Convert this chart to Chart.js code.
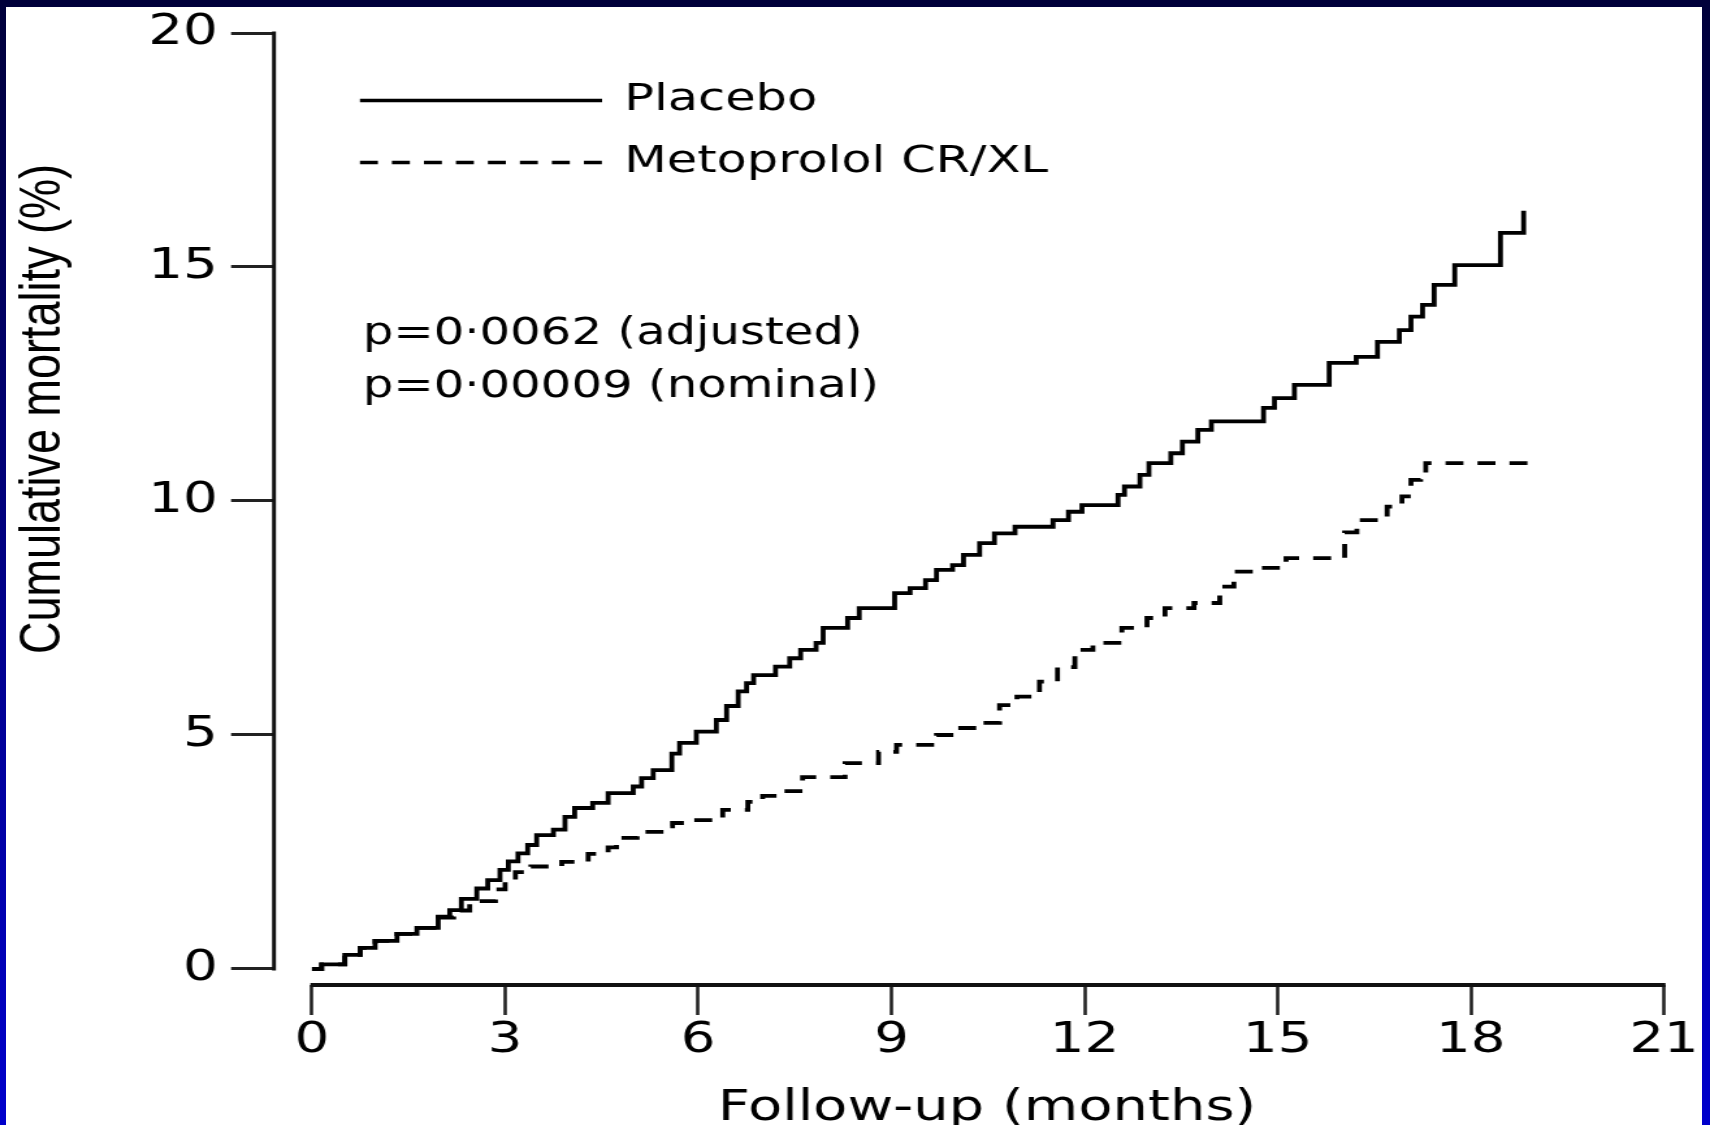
<!DOCTYPE html>
<html><head><meta charset="utf-8">
<script src="https://cdn.jsdelivr.net/npm/chart.js@4.4.1/dist/chart.umd.min.js"></script>
<style>
html,body{margin:0;padding:0;width:1710px;height:1125px;overflow:hidden;}
body{background:linear-gradient(to bottom,#00003a 0%,#0000cc 100%);position:relative;}
#panel{position:absolute;left:6px;top:7px;width:1696px;height:1118px;background:#fff;}
#wrap{position:absolute;left:0;top:0;width:1315px;height:1125px;transform:scaleX(1.300380);transform-origin:0 0;}
</style></head><body>
<div id="panel"></div>
<div id="wrap"><canvas id="c" width="1315" height="1125"></canvas></div>
<script>
// ---- data ----
const seriesNames = ['Placebo', 'Metoprolol CR/XL'];
const placeboMonths = [0, 0.15, 0.51, 0.75, 0.98, 1.32, 1.63, 1.96, 2.14, 2.32, 2.56, 2.73, 2.92, 3.05, 3.2, 3.35, 3.49, 3.75, 3.93, 4.08, 4.36, 4.6, 4.99, 5.12, 5.3, 5.59, 5.71, 5.97, 6.28, 6.44, 6.62, 6.75, 6.86, 7.2, 7.42, 7.59, 7.83, 7.94, 8.32, 8.5, 9.05, 9.29, 9.53, 9.7, 9.95, 10.12, 10.37, 10.6, 10.92, 11.51, 11.75, 11.96, 12.52, 12.62, 12.86, 13.0, 13.34, 13.52, 13.76, 13.97, 14.78, 14.95, 15.26, 15.8, 16.22, 16.55, 16.89, 17.07, 17.25, 17.43, 17.75, 18.46, 18.82];
const placeboPct = [0, 0.1, 0.3, 0.45, 0.6, 0.75, 0.88, 1.12, 1.26, 1.5, 1.72, 1.9, 2.12, 2.3, 2.47, 2.65, 2.86, 2.98, 3.25, 3.44, 3.55, 3.76, 3.9, 4.08, 4.25, 4.6, 4.83, 5.07, 5.32, 5.62, 5.93, 6.11, 6.28, 6.46, 6.64, 6.82, 6.97, 7.29, 7.5, 7.71, 8.03, 8.14, 8.31, 8.53, 8.63, 8.85, 9.1, 9.31, 9.45, 9.59, 9.77, 9.91, 10.13, 10.31, 10.56, 10.81, 11.02, 11.27, 11.52, 11.7, 11.99, 12.2, 12.48, 12.95, 13.08, 13.4, 13.65, 13.94, 14.19, 14.62, 15.04, 15.73, 16.2];
const metoMonths = [0, 0.15, 0.51, 0.75, 0.98, 1.32, 1.63, 1.96, 2.2, 2.45, 2.85, 3.0, 3.16, 3.4, 3.88, 4.29, 4.6, 4.73, 5.05, 5.52, 5.6, 5.92, 6.38, 6.77, 7.0, 7.3, 7.62, 8.28, 8.8, 9.08, 9.7, 10.0, 10.33, 10.68, 10.95, 11.3, 11.58, 11.85, 12.13, 12.58, 12.97, 13.25, 13.7, 14.1, 14.32, 14.7, 15.13, 16.04, 16.23, 16.7, 16.93, 17.07, 17.22, 17.3, 18.88];
const metoPct = [0, 0.1, 0.3, 0.45, 0.6, 0.75, 0.88, 1.1, 1.25, 1.45, 1.7, 1.9, 2.07, 2.19, 2.29, 2.46, 2.6, 2.8, 2.93, 3.05, 3.12, 3.18, 3.4, 3.57, 3.7, 3.8, 4.1, 4.4, 4.64, 4.79, 5.0, 5.15, 5.26, 5.64, 5.82, 6.14, 6.45, 6.82, 6.97, 7.29, 7.5, 7.71, 7.82, 8.17, 8.49, 8.57, 8.78, 9.33, 9.59, 9.88, 10.1, 10.45, 10.6, 10.81, 10.81];
const xTickValues = [0, 3, 6, 9, 12, 15, 18, 21];
const xTickLabels = ['0', '3', '6', '9', '12', '15', '18', '21'];
const yTickValues = [0, 5, 10, 15, 20];
const yTickLabels = ['0', '5', '10', '15', '20'];
const pValueLines = ['p=0\u00b70062 (adjusted)', 'p=0\u00b700009 (nominal)'];
const xTitle = 'Follow-up (months)';
const yTitle = 'Cumulative mortality (%)';

// ---- layout (canvas units; canvas is stretched horizontally by CSS) ----
const FONT = '"DejaVu Sans", sans-serif';
const L = {
  yAxisWidth: 210.7, padTop: 33, padRight: 35.4, xAxisHeight: 140,
  xMin: -0.59, yMin: -0.342,
  legX1: 276.8, legX2: 463, legTx: 480, legY0: 100.5, legDy: 62, legFont: 38,
  pX: 279, pY0: 334, pDy: 53, pFont: 37,
  xtX: 759, xtY: 1109, xtFont: 43,
  ytX: 33.8, ytY: 409, ytFont: 45
};

const toPts = (xs, ys) => xs.map((m, i) => ({x: m, y: ys[i]}));

const decor = {
  id: 'decor',
  beforeDatasetsDraw(chart) {
    const ctx = chart.ctx, xs = chart.scales.x, ys = chart.scales.y, ca = chart.chartArea;
    ctx.save();
    ctx.strokeStyle = '#111';
    ctx.lineCap = 'butt';
    // x axis line (0..21)
    ctx.lineWidth = 4;
    ctx.beginPath();
    ctx.moveTo(xs.getPixelForValue(xTickValues[0]) - 1.2, ca.bottom);
    ctx.lineTo(xs.getPixelForValue(xTickValues[xTickValues.length - 1]) + 1.2, ca.bottom);
    ctx.stroke();
    // y axis line (0..20)
    ctx.lineWidth = 3;
    ctx.beginPath();
    ctx.moveTo(ca.left, ys.getPixelForValue(yTickValues[0]) + 1.5);
    ctx.lineTo(ca.left, ys.getPixelForValue(yTickValues[yTickValues.length - 1]) - 1.5);
    ctx.stroke();
    ctx.restore();
  },
  afterDraw(chart) {
    const ctx = chart.ctx;
    ctx.save();
    ctx.fillStyle = '#000';
    // legend
    chart.data.datasets.forEach((ds, i) => {
      const y = L.legY0 + i * L.legDy;
      ctx.beginPath();
      ctx.lineWidth = 3.6;
      ctx.strokeStyle = ds.borderColor;
      ctx.setLineDash(ds.borderDash || []);
      ctx.moveTo(L.legX1, y);
      ctx.lineTo(L.legX2, y);
      ctx.stroke();
      ctx.setLineDash([]);
      ctx.font = L.legFont + 'px ' + FONT;
      ctx.textAlign = 'left';
      ctx.textBaseline = 'middle';
      ctx.fillText(ds.label, L.legTx, y);
    });
    // p values
    ctx.font = L.pFont + 'px ' + FONT;
    pValueLines.forEach((t, i) => ctx.fillText(t, L.pX, L.pY0 + i * L.pDy));
    // x title
    ctx.font = L.xtFont + 'px ' + FONT;
    ctx.textAlign = 'center';
    ctx.fillText(xTitle, L.xtX, L.xtY);
    // y title
    ctx.translate(L.ytX, L.ytY);
    ctx.rotate(-Math.PI / 2);
    ctx.font = L.ytFont + 'px "Liberation Sans", Arial, sans-serif';
    ctx.fillText(yTitle, 0, 0);
    ctx.restore();
  }
};

new Chart(document.getElementById('c'), {
  type: 'line',
  data: {
    datasets: [
      {label: seriesNames[0], data: toPts(placeboMonths, placeboPct), borderColor: '#000', borderWidth: 3.8,
       stepped: 'before', pointRadius: 0, fill: false},
      {label: seriesNames[1], data: toPts(metoMonths, metoPct), borderColor: '#000', borderWidth: 3.8,
       borderDash: [13.8, 10.8], stepped: 'before', pointRadius: 0, fill: false}
    ]
  },
  options: {
    responsive: false, devicePixelRatio: 1, animation: false,
    layout: {padding: {left: 0, top: L.padTop, right: L.padRight, bottom: 0}},
    plugins: {legend: {display: false}, tooltip: {enabled: false}},
    scales: {
      x: {
        type: 'linear', min: L.xMin, max: xTickValues[xTickValues.length - 1],
        afterBuildTicks: s => { s.ticks = xTickValues.map(v => ({value: v})); },
        afterFit: s => { s.height = L.xAxisHeight; },
        border: {display: false},
        grid: {display: true, drawOnChartArea: false, drawTicks: true, tickLength: 30, tickWidth: 2.6, tickColor: '#222'},
        ticks: {autoSkip: false, maxRotation: 0, padding: 5, color: '#000',
                font: {family: FONT, size: 42, lineHeight: 1},
                callback: (v, i) => xTickLabels[i]}
      },
      y: {
        type: 'linear', min: L.yMin, max: yTickValues[yTickValues.length - 1],
        afterBuildTicks: s => { s.ticks = yTickValues.map(v => ({value: v})); },
        afterFit: s => { s.width = L.yAxisWidth; },
        border: {display: false},
        grid: {display: true, drawOnChartArea: false, drawTicks: true, tickLength: 33, tickWidth: 3, tickColor: '#222'},
        ticks: {autoSkip: false, padding: 10.3, color: '#000',
                font: {family: FONT, size: 42, lineHeight: 1},
                callback: (v, i) => yTickLabels[i]}
      }
    }
  },
  plugins: [decor]
});
</script>
</body></html>
